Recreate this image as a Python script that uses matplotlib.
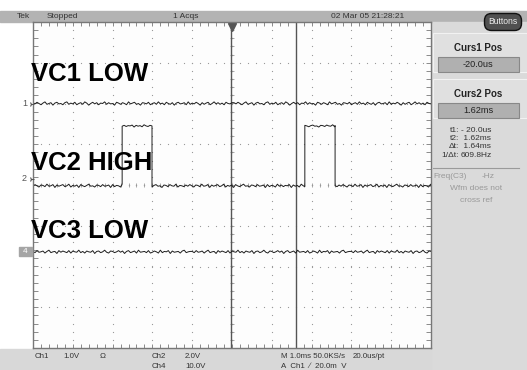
import numpy as np
import matplotlib.pyplot as plt
from matplotlib.patches import Rectangle, FancyBboxPatch

# scope settings (screen divisions: 10 x 8, time base 1 ms/div)
time_per_div_ms = 1.0
cursor_times_ms = [-0.02, 1.62]

# trace levels in divisions from screen centre
ch1_level = 2.0
ch2_low = -0.02
ch2_high = 1.45
ch4_level = -1.64
ch2_pulse_starts_ms = [-2.76, 1.83]
ch2_pulse_ends_ms = [-2.01, 2.59]

# channel ground markers (divisions)
marker_names = ['1', '2', '4']
marker_levels = [2.0, 0.15, -1.64]

# hand-read noise on the traces (divisions), one value per 0.05 ms
ch1_noise = [0.02, -0.01, 0.03, 0.00, -0.03, 0.01, 0.04, -0.02, 0.00, 0.02, -0.04, 0.01, 0.03, -0.01, 0.00, -0.03, 0.02, 0.04, -0.02, 0.01,
             -0.01, 0.03, -0.03, 0.00, 0.02, -0.02, 0.04, 0.01, -0.04, 0.00, 0.03, -0.01, 0.02, -0.03, 0.01, 0.00, 0.04, -0.02, 0.02, -0.01,
             0.00, -0.04, 0.03, 0.01, -0.02, 0.02, 0.00, -0.03, 0.04, -0.01, 0.01, 0.03, -0.02, 0.00, -0.04, 0.02, 0.01, -0.01, 0.03, -0.03,
             0.00, 0.02, -0.02, 0.04, -0.01, 0.01, -0.03, 0.03, 0.00, -0.02, 0.02, -0.04, 0.01, 0.03, -0.01, 0.00, 0.02, -0.03, 0.04, -0.02,
             0.01, -0.01, 0.03, 0.00, -0.04, 0.02, -0.02, 0.01, 0.03, -0.03, 0.00, 0.04, -0.01, 0.02, -0.02, 0.01, -0.03, 0.03, 0.00, -0.01, 0.02]
ch2_noise = [-0.01, 0.03, 0.00, -0.03, 0.02, 0.01, -0.02, 0.04, -0.01, 0.00, 0.03, -0.04, 0.02, -0.01, 0.01, 0.03, -0.02, 0.00, 0.04, -0.03,
             0.01, -0.01, 0.02, -0.04, 0.03, 0.00, -0.02, 0.01, 0.04, -0.01, 0.00, -0.03, 0.02, 0.01, -0.02, 0.03, -0.01, 0.00, 0.02, -0.04,
             0.03, -0.02, 0.01, 0.00, -0.03, 0.04, -0.01, 0.02, -0.02, 0.01, 0.00, 0.03, -0.04, 0.02, -0.01, 0.01, -0.03, 0.04, 0.00, -0.02,
             0.02, 0.00, -0.03, 0.01, 0.03, -0.01, 0.00, -0.04, 0.02, 0.01, -0.02, 0.03, 0.00, -0.01, 0.04, -0.03, 0.01, 0.00, -0.02, 0.02]
ch4_noise = [0.01, -0.02, 0.03, -0.01, 0.00, 0.02, -0.03, 0.01, 0.04, -0.02, 0.00, 0.01, -0.04, 0.03, -0.01, 0.02, 0.00, -0.02, 0.03, -0.03,
             0.02, 0.00, -0.01, 0.04, -0.02, 0.01, -0.03, 0.02, 0.00, -0.01, 0.03, -0.04, 0.01, 0.02, -0.02, 0.00, 0.04, -0.01, -0.03, 0.02,
             0.01, -0.02, 0.00, 0.03, -0.01, 0.02, -0.04, 0.01, 0.03, -0.02, 0.00, 0.02, -0.03, 0.04, -0.01, 0.00, 0.01, -0.02, 0.03, -0.03,
             -0.01, 0.02, 0.00, -0.03, 0.04, -0.02, 0.01, 0.00, 0.03, -0.04, 0.02, -0.01, 0.00, 0.01, -0.03, 0.02, 0.04, -0.02, 0.00, 0.01]

labels = ['VC1 LOW', 'VC2 HIGH', 'VC3 LOW']
label_baselines_px = [81, 170, 238]

narrow = ['Liberation Sans Narrow', 'Liberation Sans', 'DejaVu Sans']
W, H = 527, 370
fig = plt.figure(figsize=(W / 100, H / 100), dpi=100)
fig.patch.set_facecolor('white')

# background chrome in pixel coordinates
bg = fig.add_axes([0, 0, 1, 1], zorder=0)
bg.set_xlim(0, W)
bg.set_ylim(H, 0)
bg.axis('off')
bg.add_patch(Rectangle((0, 11), W, 11, color='#b3b3b3'))
bg.add_patch(Rectangle((431, 22), W - 431, H - 22, color='#dadada'))
bg.add_patch(Rectangle((0, 349), 431, H - 349, color='#d8d8d8'))

# scope screen
x0, x1, y0, y1 = 33, 431, 22, 348
ax = fig.add_axes([x0 / W, 1 - y1 / H, (x1 - x0) / W, (y1 - y0) / H], zorder=1)
ax.set_facecolor('#fdfdfd')
ax.set_xlim(-5, 5)
ax.set_ylim(-4, 4)
ax.set_xticks([])
ax.set_yticks([])
for s in ax.spines.values():
    s.set_color('#777777')
    s.set_linewidth(1)

# graticule dots
dot_y = np.arange(-4, 4.01, 0.2)
dot_x = np.arange(-5, 5.01, 0.2)
for gx in range(-4, 5):
    if gx != 0:
        ax.plot(np.full_like(dot_y, gx), dot_y, ls='none', marker='s', ms=0.8, color='#9a9a9a', mew=0)
for gy in range(-3, 4):
    if gy != 0:
        ax.plot(dot_x, np.full_like(dot_x, gy), ls='none', marker='s', ms=0.8, color='#9a9a9a', mew=0)
ax.plot(dot_x, np.zeros_like(dot_x), ls='none', marker='s', ms=0.9, color='#888888', mew=0)
ax.plot(np.zeros_like(dot_y), dot_y, ls='none', marker='s', ms=0.9, color='#888888', mew=0)

# minor ticks on centre cross and frame
tx, ty = 0.06, 0.05
ax.vlines(dot_x, -ty, ty, color='#9a9a9a', lw=0.6)
ax.hlines(dot_y, -tx, tx, color='#9a9a9a', lw=0.6)
ax.vlines(dot_x, 4 - 2 * ty, 4, color='#8a8a8a', lw=0.7)
ax.vlines(dot_x, -4, -4 + 2 * ty, color='#8a8a8a', lw=0.7)
ax.hlines(dot_y, -5, -5 + 2 * tx, color='#8a8a8a', lw=0.7)
ax.hlines(dot_y, 5 - 2 * tx, 5, color='#8a8a8a', lw=0.7)

# cursors
for ct in cursor_times_ms:
    ax.axvline(ct / time_per_div_ms, color='#555555', lw=1.0)

# trigger position marker
ax.plot(0, 3.88, marker='v', ms=6, color='#555555', clip_on=False)

# traces
step = 0.05
t = np.arange(-5, 5.001, step)
ch1 = ch1_level + np.array([ch1_noise[i % len(ch1_noise)] for i in range(len(t))])
ch4 = ch4_level + np.array([ch4_noise[i % len(ch4_noise)] for i in range(len(t))])
ax.plot(t / time_per_div_ms, ch1, color='#1e1e1e', lw=0.7)
ax.plot(t / time_per_div_ms, ch4, color='#1e1e1e', lw=0.7)

edges = [-5.0]
levels = [ch2_low]
for s, e in zip(ch2_pulse_starts_ms, ch2_pulse_ends_ms):
    edges += [s, e]
    levels += [ch2_high, ch2_low]
edges.append(5.0)
t2, v2 = [], []
k = 0
for i in range(len(levels)):
    seg = np.append(np.arange(edges[i], edges[i + 1], step), edges[i + 1])
    for tt in seg:
        t2.append(tt)
        v2.append(levels[i] + ch2_noise[k % len(ch2_noise)] * (0.7 if levels[i] == ch2_high else 1.0))
        k += 1
ax.plot(np.array(t2) / time_per_div_ms, v2, color='#1e1e1e', lw=0.7)

# overlay for texts in pixel coordinates
over = fig.add_axes([0, 0, 1, 1], zorder=3)
over.set_xlim(0, W)
over.set_ylim(H, 0)
over.axis('off')
for lab, yb in zip(labels, label_baselines_px):
    over.text(31, yb, lab, fontsize=18.5, fontweight='bold', family='Liberation Sans',
              va='baseline', ha='left', color='black')

# channel markers on left
for name, lv in zip(marker_names, marker_levels):
    py = y0 + (4 - lv) * (y1 - y0) / 8
    if name == '4':
        over.add_patch(Rectangle((19, py - 4.5), 13, 9, color='#a5a5a5'))
        over.text(25.5, py, '4', fontsize=6, color='white', ha='center', va='center', family=narrow)
    else:
        over.text(27, py, name, fontsize=6.5, color='#555555', ha='right', va='center', family=narrow)
        over.plot(30.5, py, marker='4', ms=4, color='#555555', mew=0.8)

# top bar text
top_y = 16.5
for xx, s in [(17, 'Tek'), (47, 'Stopped'), (173, '1 Acqs'), (331, '02 Mar 05 21:28:21')]:
    over.text(xx, top_y, s, fontsize=6.0, color='#333333', ha='left', va='center', family=narrow)
over.add_patch(FancyBboxPatch((485, 14), 36, 16, boxstyle='round,pad=0.5,rounding_size=7',
                              fc='#505050', ec='#111111', lw=1))
over.text(503, 22, 'Buttons', fontsize=6.2, color='#eeeeee', ha='center', va='center', family=narrow)

# right panel
for by, title, val in [(33, 'Curs1 Pos', '-20.0us'), (79, 'Curs2 Pos', '1.62ms')]:
    over.add_patch(Rectangle((433, by), 94, 39, fc='#e0e0e0', ec='#f2f2f2', lw=0.8))
    over.text(478, by + 15, title, fontsize=7, fontweight='bold', color='#222222',
              ha='center', va='center', family='Liberation Sans')
    over.add_patch(Rectangle((438, by + 24), 81, 15, fc='#b0b0b0', ec='#888888', lw=0.8))
    over.text(478, by + 31.5, val, fontsize=6.6, color='#222222', ha='center', va='center', family=narrow)

for yy, a, b in [(130, 't1:', '- 20.0us'), (138.5, 't2:', ' 1.62ms'),
                 (147, '\u0394t:', ' 1.64ms'), (155.5, '1/\u0394t:', '609.8Hz')]:
    over.text(459, yy, a, fontsize=6.0, color='#333333', ha='right', va='center', family=narrow)
    over.text(461, yy, b, fontsize=6.0, color='#333333', ha='left', va='center', family=narrow)
over.plot([433, 519], [168, 168], color='#9a9a9a', lw=0.8)
over.text(433, 176.5, 'Freq(C3)', fontsize=6.0, color='#999999', ha='left', va='center', family=narrow)
over.text(482, 176.5, '-Hz', fontsize=6.0, color='#999999', ha='left', va='center', family=narrow)
over.text(476, 189, 'Wfm does not', fontsize=6.0, color='#999999', ha='center', va='center', family=narrow)
over.text(476, 201, 'cross ref', fontsize=6.0, color='#999999', ha='center', va='center', family=narrow)

# bottom status text
for xx, yy, s in [(35, 357, 'Ch1'), (63, 357, '1.0V'), (100, 357, '\u03a9'), (152, 357, 'Ch2'),
                  (185, 357, '2.0V'), (281, 357, 'M 1.0ms 50.0KS/s'), (353, 357, '20.0us/pt'),
                  (152, 367, 'Ch4'), (185, 367, '10.0V'), (281, 367, 'A  Ch1  \u2215  20.0m  V')]:
    over.text(xx, yy, s, fontsize=5.7, color='#333333', ha='left', va='center', family=narrow)

plt.savefig('out.png', dpi=100)
